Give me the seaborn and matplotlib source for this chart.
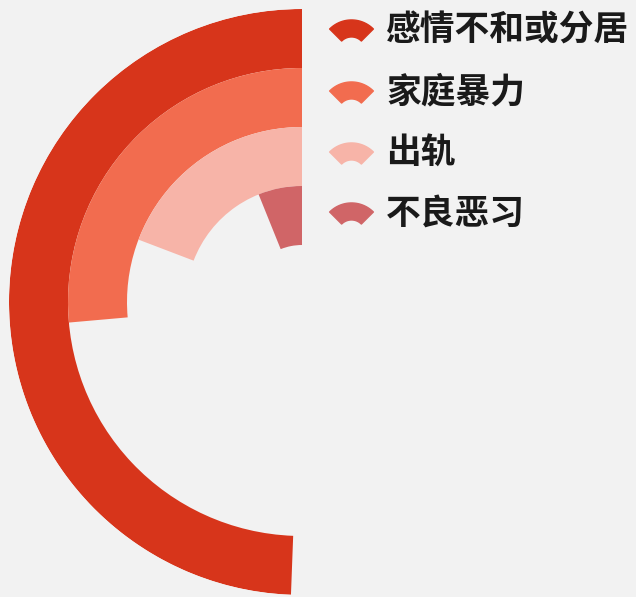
import numpy as np
import pandas as pd
import matplotlib.pyplot as plt
from matplotlib.lines import Line2D
from matplotlib.path import Path
import seaborn as sns

# data: share of each divorce reason (percent of a full circle)
reasons = ['感情不和或分居', '家庭暴力', '出轨', '不良恶习']
shares = [49.4, 26.4, 19.2, 6.1]
colors = ['#d7351b', '#f26c4f', '#f7b4a8', '#d06567']

sns.set_theme(style='white')
plt.rcParams['font.family'] = ['Noto Sans CJK SC', 'DejaVu Sans']

df = pd.DataFrame({'reason': reasons, 'share': shares})
df['theta'] = df['share'] / 100 * 2 * np.pi

W, H = 636, 597
fig = plt.figure(figsize=(W / 100, H / 100), dpi=100, facecolor='#f2f2f2')

# polar axes centred at (302, 302) px with outer radius 293 px
cx, cy, R = 302, 302, 293
ax = fig.add_axes([(cx - R) / W, (H - cy - R) / H, 2 * R / W, 2 * R / H],
                  projection='polar')
ax.set_theta_zero_location('N')
ax.set_theta_direction(1)

sns.barplot(data=df, x='theta', y='reason', hue='reason', palette=colors,
            orient='h', width=1.0, saturation=1, errorbar=None,
            linewidth=0, legend=False, ax=ax)

# first category outermost, hole in the middle
ax.set_ylim(4.466, -0.5)
ax.set_xlim(0, 2 * np.pi)
ax.axis('off')

# fan-shaped legend marker
a = np.linspace(np.radians(45), np.radians(135), 30)
outer = np.column_stack([np.cos(a), np.sin(a)])
inner = 0.45 * np.column_stack([np.cos(a[::-1]), np.sin(a[::-1])])
verts = np.vstack([outer, inner, outer[:1]])
verts[:, 1] -= (verts[:, 1].max() + verts[:, 1].min()) / 2
codes = [Path.MOVETO] + [Path.LINETO] * (len(verts) - 2) + [Path.CLOSEPOLY]
fan = Path(verts, codes)

row_y = [30, 92, 153, 213]
for name, c, y in zip(reasons, colors, row_y):
    fig.add_artist(Line2D([351 / W], [1 - y / H], marker=fan, markersize=31.5,
                          color=c, linestyle='none', transform=fig.transFigure))
    fig.text(386 / W, 1 - y / H, name, fontsize=25, color='#1a1a1a',
             fontweight='bold', va='center', ha='left')

fig.savefig('out.png', dpi=100, facecolor=fig.get_facecolor())
